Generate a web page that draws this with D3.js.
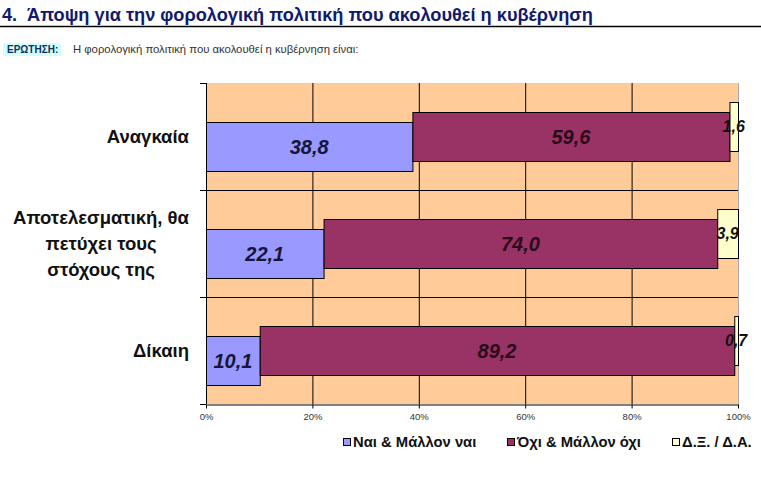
<!DOCTYPE html>
<html>
<head>
<meta charset="utf-8">
<script src="https://cdn.jsdelivr.net/npm/d3@7"></script>
<style>
    body { margin: 0; background: #fff; }
    svg { display: block; font-family: Arial, "Liberation Sans", sans-serif; }
</style>
</head>
<body>
<div id="chart"></div>
<script>
// chart data
const categories = ["Αναγκαία", "Αποτελεσματική, θα πετύχει τους στόχους της", "Δίκαιη"];
const categoryLines = [["Αναγκαία"], ["Αποτελεσματική, θα", "πετύχει τους", "στόχους της"], ["Δίκαιη"]];
const seriesNames = ["Ναι & Μάλλον ναι", "Όχι & Μάλλον όχι", "Δ.Ξ. / Δ.Α."];
const yesValues = [38.8, 22.1, 10.1];
const noValues = [59.6, 74.0, 89.2];
const dkValues = [1.6, 3.9, 0.7];
const xTicks = [0, 20, 40, 60, 80, 100];

const colors = ["#9999ff", "#993366", "#ffffcc"];
const labelColors = ["#161638", "#2a0a18", "#111111"];

const width = 761;
const height = 495;
const marginLeft = 206;
const marginRight = 23;
const marginTop = 83;
const plotBottom = 404;

const svg = d3.select("#chart")
    .append("svg")
    .attr("width", width)
    .attr("height", height);

// header
svg.append("text")
    .attr("x", 2)
    .attr("y", 21)
    .attr("font-size", 18.2)
    .attr("font-weight", "bold")
    .attr("fill", "#111a6e")
    .text("4.");
svg.append("text")
    .attr("x", 27)
    .attr("y", 21)
    .attr("font-size", 18.2)
    .attr("font-weight", "bold")
    .attr("fill", "#111a6e")
    .text("Άποψη για την φορολογική πολιτική που ακολουθεί η κυβέρνηση");
svg.append("line")
    .attr("x1", 0).attr("x2", width)
    .attr("y1", 26.5).attr("y2", 26.5)
    .attr("stroke", "#000")
    .attr("stroke-width", 1.5);

svg.append("rect")
    .attr("x", 3).attr("y", 43)
    .attr("width", 58).attr("height", 13)
    .attr("fill", "#ccffff");
svg.append("text")
    .attr("x", 7).attr("y", 53)
    .attr("font-size", 10)
    .attr("font-weight", "bold")
    .attr("fill", "#1a2a5a")
    .text("ΕΡΩΤΗΣΗ:");
svg.append("text")
    .attr("x", 73).attr("y", 53)
    .attr("font-size", 11.3)
    .attr("fill", "#333")
    .text("Η φορολογική πολιτική που ακολουθεί η κυβέρνηση είναι:");

// scales
const x = d3.scaleLinear()
    .domain([0, 100])
    .range([marginLeft, width - marginRight]);

const y = d3.scaleBand()
    .domain(categories)
    .range([marginTop, plotBottom]);

const bw = y.bandwidth();
const barHeight = 49;
const shift = 10;

// plot background
svg.append("rect")
    .attr("x", x(0)).attr("y", marginTop)
    .attr("width", x(100) - x(0))
    .attr("height", plotBottom - marginTop)
    .attr("fill", "#ffcc99");

// vertical gridlines
svg.append("g")
    .selectAll("line")
    .data(xTicks.slice(1))
    .join("line")
    .attr("x1", d => x(d) + 0.5).attr("x2", d => x(d) + 0.5)
    .attr("y1", marginTop).attr("y2", plotBottom)
    .attr("stroke", d => d === 100 ? "#aaa" : "#000")
    .attr("stroke-width", 1);

// category separators
svg.append("g")
    .selectAll("line")
    .data(categories.slice(1))
    .join("line")
    .attr("x1", x(0)).attr("x2", x(100))
    .attr("y1", d => y(d) + 0.5).attr("y2", d => y(d) + 0.5)
    .attr("stroke", "#000");

// left axis line + ticks at band edges
const edges = categories.map(c => y(c)).concat([plotBottom]);
svg.append("line")
    .attr("x1", x(0) + 0.5).attr("x2", x(0) + 0.5)
    .attr("y1", marginTop).attr("y2", plotBottom)
    .attr("stroke", "#000");
svg.append("g")
    .selectAll("line")
    .data(edges)
    .join("line")
    .attr("x1", x(0) - 6).attr("x2", x(0))
    .attr("y1", d => d + 0.5).attr("y2", d => d + 0.5)
    .attr("stroke", "#000");

// stacked series, each one offset a bit vertically
const series = [yesValues, noValues, dkValues];
const stacked = series.map((vals, si) => vals.map((v, ci) => {
    const start = d3.sum(series.slice(0, si), s => s[ci]);
    return {cat: categories[ci], v: v, x0: start, x1: start + v, si: si};
}));

const fmt = v => d3.format(".1f")(v).replace(".", ",");

stacked.forEach((rows, si) => {
    const off = (1 - si) * shift;
    const g = svg.append("g");
    g.selectAll("rect")
        .data(rows)
        .join("rect")
        .attr("x", d => x(d.x0) + 0.5)
        .attr("y", d => y(d.cat) + (bw - barHeight) / 2 + off + 0.5)
        .attr("width", d => x(d.x1) - x(d.x0))
        .attr("height", barHeight)
        .attr("fill", colors[si])
        .attr("stroke", "#000")
        .attr("stroke-width", 1);
});

// value labels on top
stacked.forEach((rows, si) => {
    const off = (1 - si) * shift;
    svg.append("g")
        .selectAll("text")
        .data(rows)
        .join("text")
        .attr("x", d => x((d.x0 + d.x1) / 2))
        .attr("y", d => y(d.cat) + bw / 2 + off)
        .attr("dy", "0.36em")
        .attr("text-anchor", "middle")
        .attr("font-size", si === 2 ? 16 : 20)
        .attr("font-weight", "bold")
        .attr("font-style", "italic")
        .attr("fill", labelColors[si])
        .text(d => fmt(d.v));
});

// category labels
const catG = svg.append("g")
    .attr("font-size", 18.5)
    .attr("font-weight", "bold")
    .attr("fill", "#111");
categories.forEach((c, i) => {
    const lines = categoryLines[i];
    const lh = 26;
    const t = catG.append("text").attr("text-anchor", "middle");
    lines.forEach((ln, j) => {
        t.append("tspan")
            .attr("y", y(c) + bw / 2 + (j - (lines.length - 1) / 2) * lh)
            .attr("dy", "0.35em")
            .text(ln);
    });
    // right edge of the widest line sits at 189
    const maxW = d3.max(t.selectAll("tspan").nodes(), n => n.getComputedTextLength());
    t.selectAll("tspan").attr("x", 189 - maxW / 2);
});

// bottom axis
svg.append("g")
    .attr("transform", `translate(0,${plotBottom + 0.5})`)
    .call(d3.axisBottom(x)
        .tickValues(xTicks)
        .tickFormat(d => d + "%")
        .tickSizeInner(4)
        .tickSizeOuter(0)
        .tickPadding(5))
    .call(g => g.select(".domain").attr("stroke", "#000"))
    .call(g => g.selectAll(".tick line").attr("stroke", "#000"))
    .call(g => g.selectAll(".tick text")
        .attr("font-size", 9.5)
        .attr("font-family", "Arial, 'Liberation Sans', sans-serif")
        .attr("fill", "#333"));

// legend
const legendX = [343, 507, 672];
const legend = svg.append("g")
    .selectAll("g")
    .data(seriesNames)
    .join("g")
    .attr("transform", (d, i) => `translate(${legendX[i]},438)`);
legend.append("rect")
    .attr("x", 0.5).attr("y", 0.5)
    .attr("width", 7).attr("height", 7)
    .attr("fill", (d, i) => colors[i])
    .attr("stroke", "#000");
legend.append("text")
    .attr("x", 10)
    .attr("y", 9)
    .attr("font-size", 14.8)
    .attr("font-weight", "bold")
    .attr("fill", "#111")
    .text(d => d);
</script>
</body>
</html>
